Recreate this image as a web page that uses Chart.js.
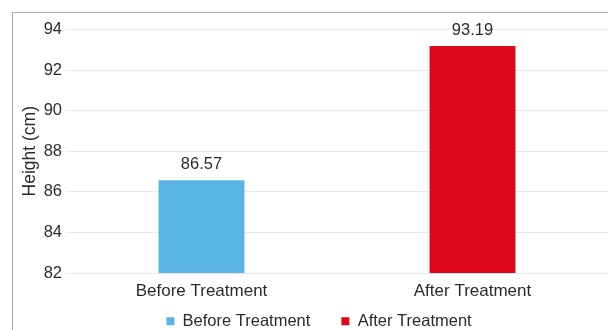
<!DOCTYPE html>
<html>
<head>
<meta charset="utf-8">
<script src="https://cdn.jsdelivr.net/npm/chart.js@4.4.1/dist/chart.umd.min.js"></script>
<style>
    body { margin: 0; background: #fff; }
    #wrap { position: relative; width: 608px; height: 330px; overflow: hidden; }
    #frame { position: absolute; left: 12px; top: 12px; width: 700px; height: 400px; border: 1px solid #aaa; }
    #chart { position: absolute; left: 0; top: 0; }
</style>
</head>
<body>
<div id="wrap">
    <div id="frame"></div>
    <canvas id="chart" width="608" height="330"></canvas>
</div>
<script>
// Chart data
const categories = ['Before Treatment', 'After Treatment'];
const beforeValues = [86.57, null];
const afterValues = [null, 93.19];
const yTicks = [82, 84, 86, 88, 90, 92, 94];

const textColor = '#2b2b2b';
const fontFamily = '"Liberation Sans", Arial, sans-serif';

// Draw the value above each bar
const valueLabels = {
    id: 'valueLabels',
    afterDatasetsDraw(chart) {
        const ctx = chart.ctx;
        ctx.save();
        ctx.fillStyle = textColor;
        ctx.font = '16.5px ' + fontFamily;
        ctx.textAlign = 'center';
        ctx.textBaseline = 'middle';
        chart.data.datasets.forEach(function(ds, i) {
            chart.getDatasetMeta(i).data.forEach(function(bar, j) {
                const v = ds.data[j];
                if (v === null) return;
                ctx.fillText(v.toFixed(2), bar.x, bar.y - 15.5);
            });
        });
        ctx.restore();
    }
};

// Legend sits closer to the axis labels than its item spacing allows
const legendShift = {
    id: 'legendShift',
    afterLayout(chart) {
        const legend = chart.legend;
        legend.top -= 20;
        legend.bottom -= 20;
        legend.left += 5;
        legend.right += 5;
    }
};

const ctx = document.getElementById('chart').getContext('2d');
window.heightChart = new Chart(ctx, {
    type: 'bar',
    data: {
        labels: categories,
        datasets: [{
            label: 'Before Treatment',
            data: beforeValues,
            backgroundColor: '#5ab5e6',
            skipNull: true
        }, {
            label: 'After Treatment',
            data: afterValues,
            backgroundColor: '#de0719',
            skipNull: true
        }]
    },
    options: {
        responsive: false,
        animation: false,
        categoryPercentage: 1,
        barPercentage: 0.317,
        layout: {
            padding: { left: 20, right: 0, top: 29.5, bottom: -29.5 }
        },
        plugins: {
            legend: {
                position: 'bottom',
                labels: {
                    boxWidth: 8,
                    boxHeight: 8,
                    padding: 31,
                    color: textColor,
                    font: { family: fontFamily, size: 16.5 }
                }
            },
            tooltip: { enabled: false }
        },
        scales: {
            y: {
                min: 82,
                max: 94,
                afterBuildTicks: function(scale) {
                    scale.ticks = yTicks.map(function(v) { return { value: v }; });
                },
                afterFit: function(scale) {
                    scale.width = 46;
                },
                border: { display: false },
                grid: { color: '#e9e9e9', drawTicks: false },
                ticks: {
                    padding: 4,
                    color: textColor,
                    font: { family: fontFamily, size: 16.5 }
                },
                title: {
                    display: true,
                    text: 'Height (cm)',
                    color: textColor,
                    padding: { top: 0, bottom: 0 },
                    font: { family: fontFamily, size: 17.5 }
                }
            },
            x: {
                afterFit: function(scale) {
                    scale.height = 29;
                },
                border: { display: false },
                grid: { display: false, drawTicks: false },
                ticks: {
                    padding: 8,
                    color: textColor,
                    font: { family: fontFamily, size: 17 }
                }
            }
        }
    },
    plugins: [valueLabels, legendShift]
});
</script>
</body>
</html>
